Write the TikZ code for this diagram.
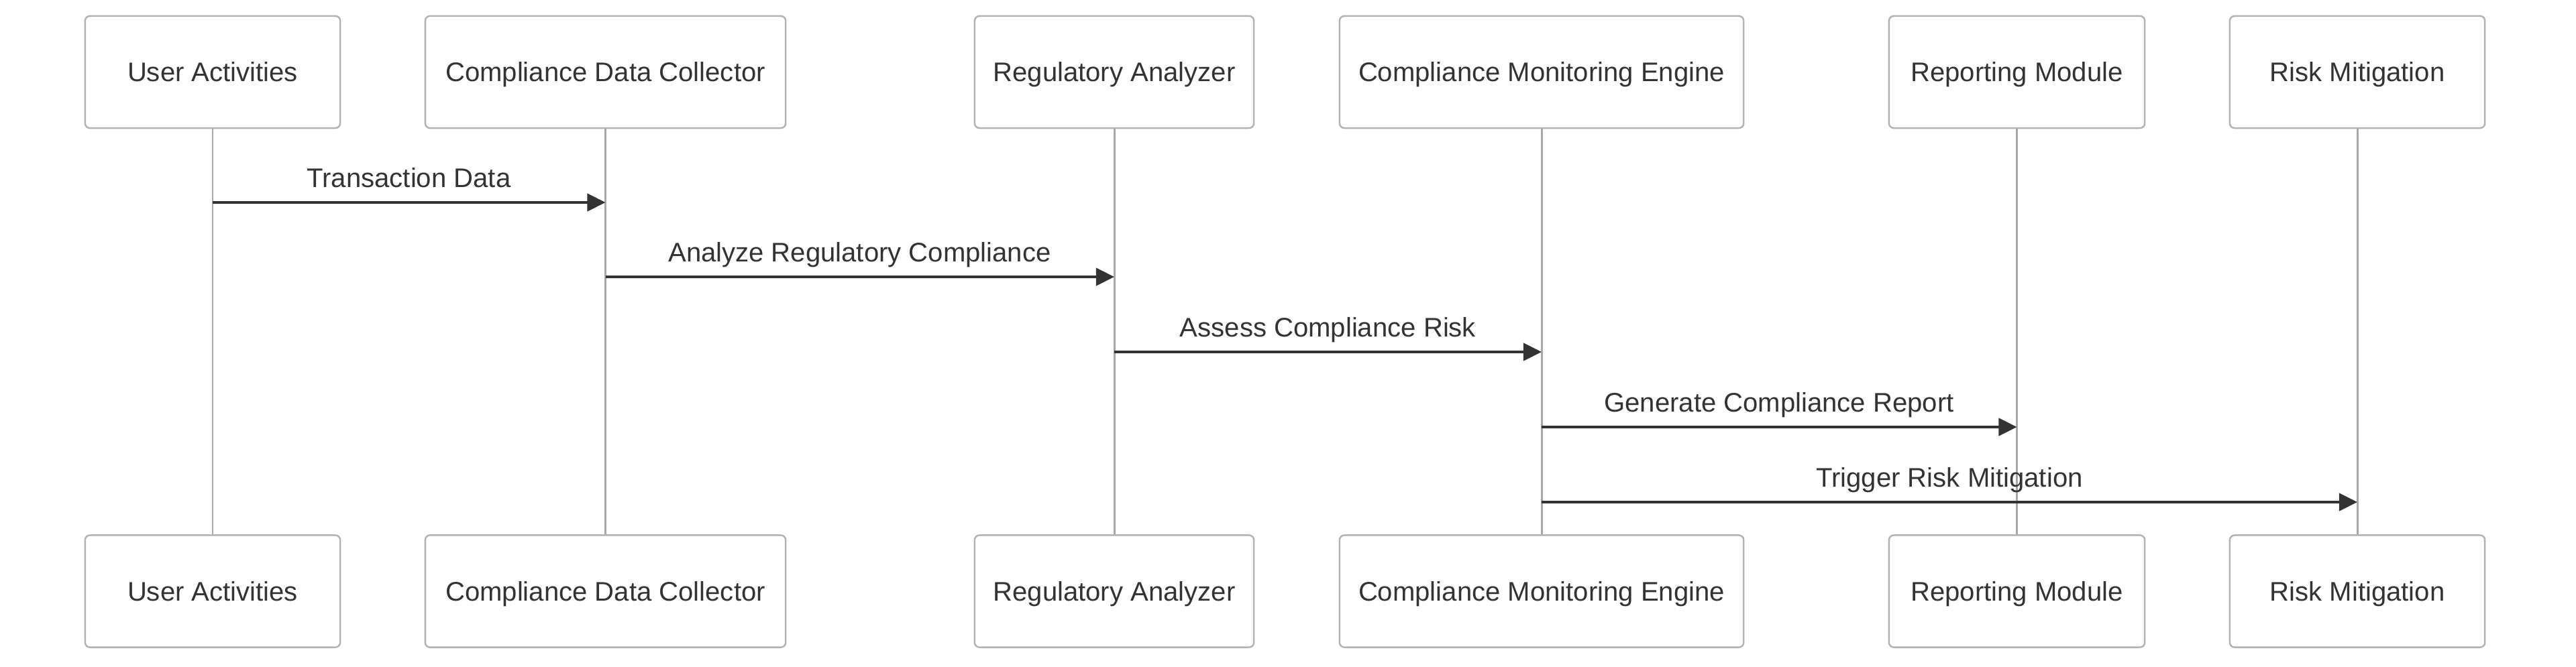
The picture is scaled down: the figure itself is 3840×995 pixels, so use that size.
\documentclass[tikz,border=0pt]{standalone}
\usepackage{fontspec}
\setmainfont{Liberation Sans}
\usetikzlibrary{arrows.meta}
\definecolor{boxline}{HTML}{B3B3B3}
\definecolor{lifecol}{HTML}{A8A8A8}
\definecolor{ink}{HTML}{333333}
\begin{document}
\begin{tikzpicture}[x=0.01cm,y=-0.01cm,
  actor/.style={draw=boxline,line width=0.7pt,fill=white,rounded corners=2pt,
    minimum height=1.67cm,inner sep=0pt,text=ink,text height=0.29cm,text depth=0pt,
    font=\fontsize{11.4}{13.7}\selectfont},
  lifeline/.style={draw=lifecol,line width=0.85pt},
  msg/.style={draw=ink,line width=1.25pt,-{Triangle[length=7.7pt,width=7.4pt]}},
  msglabel/.style={anchor=base,text=ink,inner sep=0pt,
    font=\fontsize{11.4}{13.7}\selectfont}]
\useasboundingbox (0,0) rectangle (3840,995);
% top actors
\node[actor,minimum width=3.80cm] (t1) at (317,107.5) {User Activities};
\node[actor,minimum width=5.37cm] (t2) at (902.5,107.5) {Compliance Data Collector};
\node[actor,minimum width=4.16cm] (t3) at (1661,107.5) {Regulatory Analyzer};
\node[actor,minimum width=6.02cm] (t4) at (2298,107.5) {Compliance Monitoring Engine};
\node[actor,minimum width=3.81cm] (t5) at (3006.5,107.5) {Reporting Module};
\node[actor,minimum width=3.80cm] (t6) at (3514,107.5) {Risk Mitigation};
% bottom actors
\node[actor,minimum width=3.80cm] (b1) at (317,882) {User Activities};
\node[actor,minimum width=5.37cm] (b2) at (902.5,882) {Compliance Data Collector};
\node[actor,minimum width=4.16cm] (b3) at (1661,882) {Regulatory Analyzer};
\node[actor,minimum width=6.02cm] (b4) at (2298,882) {Compliance Monitoring Engine};
\node[actor,minimum width=3.81cm] (b5) at (3006.5,882) {Reporting Module};
\node[actor,minimum width=3.80cm] (b6) at (3514,882) {Risk Mitigation};
% lifelines
\foreach \i in {1,...,6}{\draw[lifeline] (t\i.south) -- (b\i.north);}
% messages
\coordinate (y1) at (0,302);
\coordinate (y2) at (0,413);
\coordinate (y3) at (0,525);
\coordinate (y4) at (0,637);
\coordinate (y5) at (0,749);
\draw[msg] (t1.south |- y1) -- (t2.south |- y1);
\draw[msg] (t2.south |- y2) -- (t3.south |- y2);
\draw[msg] (t3.south |- y3) -- (t4.south |- y3);
\draw[msg] (t4.south |- y4) -- (t5.south |- y4);
\draw[msg] (t4.south |- y5) -- (t6.south |- y5);
\node[msglabel] (l1) at (609.5,280) {Transaction Data};
\node[msglabel] (l2) at (1281.5,391) {Analyze Regulatory Compliance};
\node[msglabel] (l3) at (1979.5,503) {Assess Compliance Risk};
\node[msglabel] (l4) at (2652,615) {Generate Compliance Report};
\node[msglabel] (l5) at (2906,727) {Trigger Risk Mitigation};
\end{tikzpicture}
\end{document}
